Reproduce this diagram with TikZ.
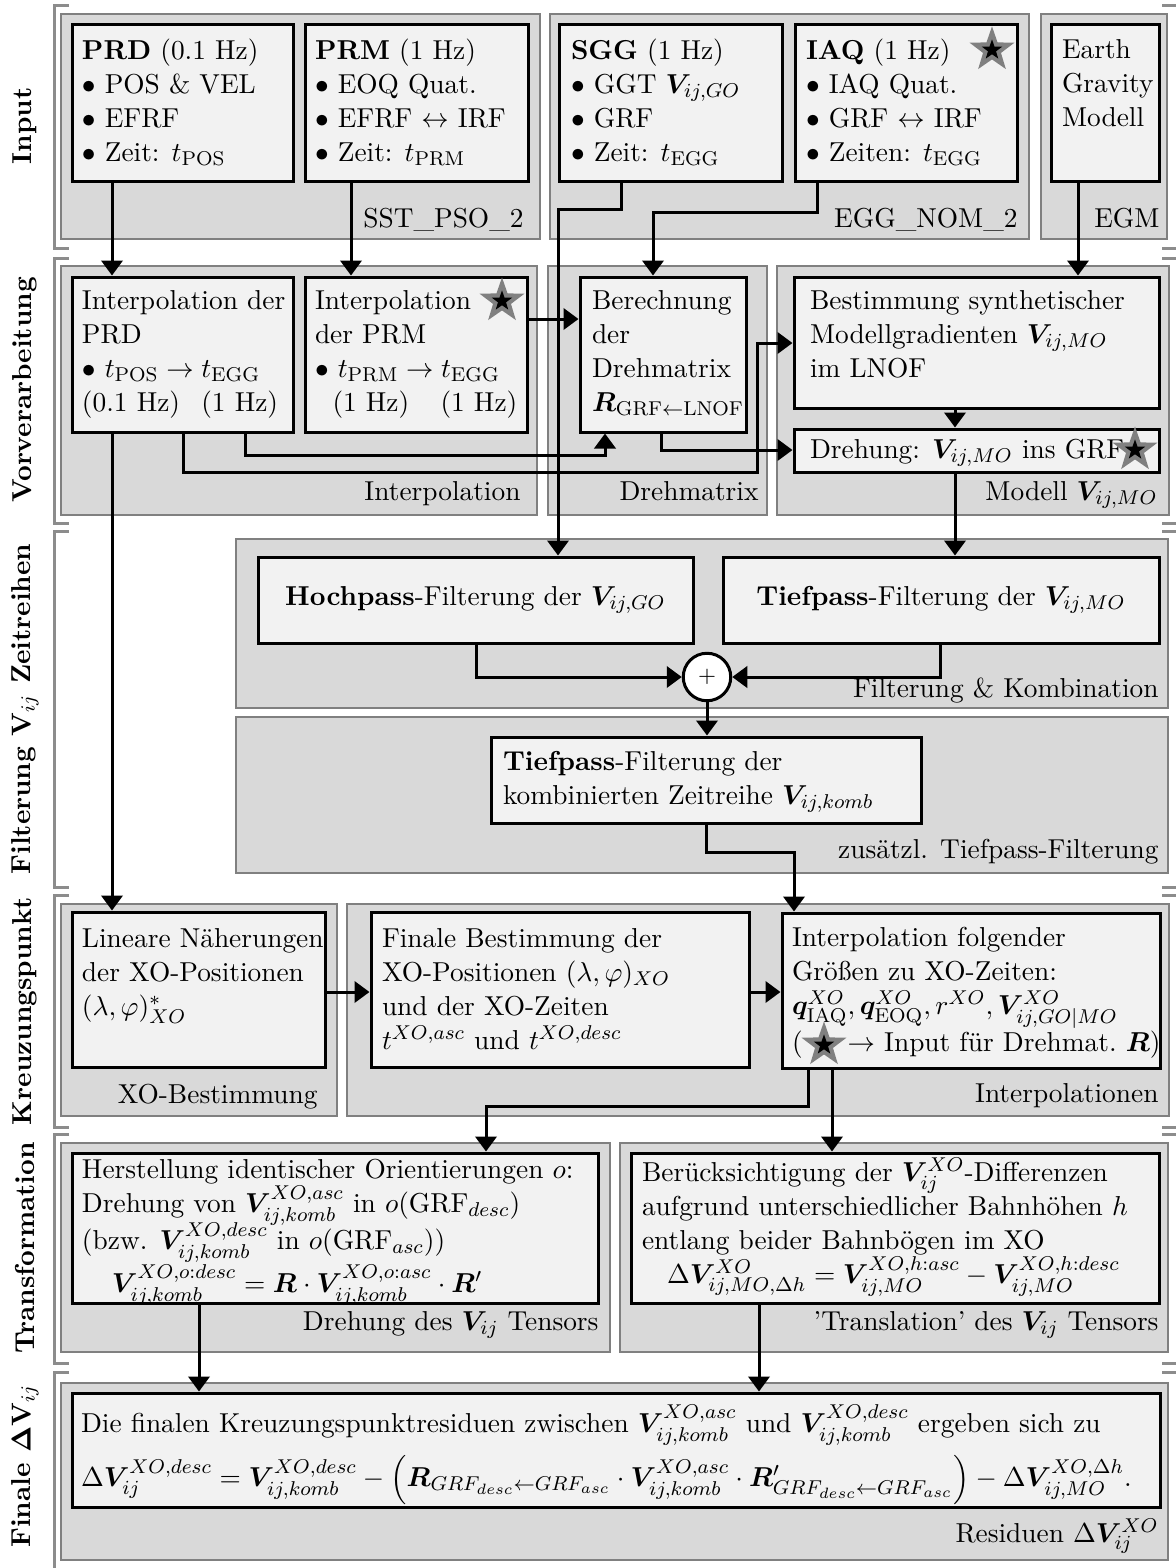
\documentclass[tikz,border=0pt]{standalone}
\usepackage{amsmath}
\usepackage{bm}
\usetikzlibrary{arrows.meta,shapes.geometric,fit}

\begin{document}
\begin{tikzpicture}[x=0.4pt,y=-0.4pt,
    grp/.style={draw=gray,line width=0.5pt,fill=gray!30,inner sep=0pt},
    box/.style={draw=black,very thick,fill=gray!10,inner sep=0pt},
    txt/.style={align=left,inner sep=0pt,anchor=north west,font=\fontsize{10.95}{13.6}\selectfont,execute at begin node={\rule{0pt}{10pt}}},
    ctxt/.style={inner sep=0pt,font=\fontsize{10.95}{13.6}\selectfont},
    glab/.style={inner sep=0pt,anchor=base east,font=\fontsize{10.95}{13.6}\selectfont},
    sec/.style={rotate=90,inner sep=0pt,font=\fontsize{10.95}{13.6}\selectfont\bfseries},
    arr/.style={very thick,-{Triangle[length=6pt,width=8.5pt]}},
    brk/.style={draw=gray!90,very thick},
    gstar/.style={star,star points=5,star point ratio=2.5,minimum size=8.5pt,inner sep=0pt,fill=black,preaction={draw=gray,line width=3.4pt}},
    sum/.style={circle,draw,very thick,fill=white,minimum size=19pt,inner sep=0pt,font=\small}]
    \useasboundingbox (0,0) rectangle (1175,1568);

    % Klammern links, Enden rechts
    \draw[brk] (69,5) -- (54,5) -- (54,248) -- (69,248);
    \draw[brk] (69,258) -- (54,258) -- (54,523) -- (69,523);
    \draw[brk] (69,531) -- (54,531) -- (54,887) -- (69,887);
    \draw[brk] (69,895) -- (54,895) -- (54,1127) -- (69,1127);
    \draw[brk] (69,1134) -- (54,1134) -- (54,1363) -- (69,1363);
    \draw[brk] (69,1372) -- (54,1372) -- (54,1580);
    \foreach \y in {5,248,258,523,531,887,895,1127,1134,1363,1372}
        \draw[brk] (1162,\y) -- (1180,\y);

    \node[sec] (secin) at (25,126) {Input};
    \node[sec] (secvor) at (25,390) {Vorverarbeitung};
    \node[sec] (secfil) at (25,709) {Filterung $\mathbf{V}_{ij}$ Zeitreihen};
    \node[sec] (seckreuz) at (25,1011) {Kreuzungspunkt};
    \node[sec] (sectrans) at (25,1248) {Transformation};
    \node[sec] (secfin) at (25,1466) {Finale $\bm{\Delta}\mathbf{V}_{ij}$};

    % Gruppen
    \node[grp, fit={(61,14) (540,239)}] (sst) {};
    \node[grp, fit={(550,14) (1029,239)}] (egg) {};
    \node[grp, fit={(1041,14) (1167,239)}] (egmg) {};
    \node[grp, fit={(61,266) (537,515)}] (interp) {};
    \node[grp, fit={(548,266) (767,515)}] (drehm) {};
    \node[grp, fit={(777,266) (1169,515)}] (modell) {};
    \node[grp, fit={(236,539) (1168,708)}] (filt) {};
    \node[grp, fit={(236,717) (1168,873)}] (zus) {};
    \node[grp, fit={(61,904) (337,1116)}] (xobest) {};
    \node[grp, fit={(347,904) (1169,1116)}] (ipolen) {};
    \node[grp, fit={(61,1143) (610,1352)}] (drehg) {};
    \node[grp, fit={(620,1143) (1168,1352)}] (transl) {};
    \node[grp, fit={(61,1383) (1168,1560)}] (resid) {};

    \node[glab] (sstL) at (524,227) {SST\_PSO\_2};
    \node[glab] (eggL) at (1018,227) {EGG\_NOM\_2};
    \node[glab] (egmL) at (1160,227) {EGM};
    \node[glab] (interpL) at (521,500) {Interpolation};
    \node[glab] (drehmL) at (759,500) {Drehmatrix};
    \node[glab] (modellL) at (1158,500) {Modell $\bm{V}_{ij,MO}$};
    \node[glab] (filtL) at (1159,697) {Filterung \& Kombination};
    \node[glab] (zusL) at (1159,858) {zusätzl. Tiefpass-Filterung};
    \node[glab] (xobestL) at (318,1103) {XO-Bestimmung};
    \node[glab] (ipolenL) at (1159,1102) {Interpolationen};
    \node[glab] (drehgL) at (599,1330) {Drehung des $\bm{V}_{ij}$ Tensors};
    \node[glab] (translL) at (1159,1330) {'Translation' des $\bm{V}_{ij}$ Tensors};
    \node[glab] (residL) at (1159,1542) {Residuen $\Delta\bm{V}^{XO}_{ij}$};

    % Kaesten
    \node[box, fit={(72,24) (293,181)}] (prd) {};
    \node[box, fit={(305,24) (528,181)}] (prm) {};
    \node[box, fit={(559,24) (782,181)}] (sgg) {};
    \node[box, fit={(795,24) (1017,181)}] (iaq) {};
    \node[box, fit={(1051,24) (1159,181)}] (egm) {};
    \node[box, fit={(72,277) (293,432)}] (ipprd) {};
    \node[box, fit={(305,277) (527,432)}] (ipprm) {};
    \node[box, fit={(580,277) (746,432)}] (dreh) {};
    \node[box, fit={(794,277) (1159,408)}] (best) {};
    \node[box, fit={(794,429) (1159,472)}] (drehung) {};
    \node[box, fit={(258,557) (693,643)}] (hoch) {};
    \node[box, fit={(723,557) (1159,643)}] (tief) {};
    \node[box, fit={(491,737) (921,823)}] (komb) {};
    \node[box, fit={(72,912) (325,1067)}] (linear) {};
    \node[box, fit={(371,912) (749,1067)}] (finale) {};
    \node[box, fit={(782,913) (1160,1068)}] (ipxo) {};
    \node[box, fit={(72,1153) (598,1303)}] (herst) {};
    \node[box, fit={(631,1153) (1159,1303)}] (beruck) {};
    \node[box, fit={(72,1393) (1160,1507)}] (final) {};
    \node[sum] (plus) at (707,677) {$+$};

    \node[txt] (prdT) at ([shift={(11,16)}]prd.north west) {\textbf{PRD} (0.1 Hz)\\$\bullet$ POS \& VEL\\$\bullet$ EFRF\\$\bullet$ Zeit: $t_{\mathrm{POS}}$};
    \node[txt] (prmT) at ([shift={(11,16)}]prm.north west) {\textbf{PRM} (1 Hz)\\$\bullet$ EOQ Quat.\\$\bullet$ EFRF $\leftrightarrow$ IRF\\$\bullet$ Zeit: $t_{\mathrm{PRM}}$};
    \node[txt] (sggT) at ([shift={(13,16)}]sgg.north west) {\textbf{SGG} (1 Hz)\\$\bullet$ GGT $\bm{V}_{ij,GO}$\\$\bullet$ GRF\\$\bullet$ Zeit: $t_{\mathrm{EGG}}$};
    \node[txt] (iaqT) at ([shift={(12,16)}]iaq.north west) {\textbf{IAQ} (1 Hz)\\$\bullet$ IAQ Quat.\\$\bullet$ GRF $\leftrightarrow$ IRF\\$\bullet$ Zeiten: $t_{\mathrm{EGG}}$};
    \node[txt] (egmT) at ([shift={(12,16)}]egm.north west) {Earth\\Gravity\\Modell};
    \node[txt] (ipprdT) at ([shift={(11,14)}]ipprd.north west) {Interpolation der\\PRD\\$\bullet$ $t_{\mathrm{POS}}\rightarrow t_{\mathrm{EGG}}$\\(0.1 Hz)\hspace{8.5pt}(1 Hz)};
    \node[txt] (ipprmT) at ([shift={(11,14)}]ipprm.north west) {Interpolation\\der PRM\\$\bullet$ $t_{\mathrm{PRM}}\rightarrow t_{\mathrm{EGG}}$\\\hspace*{7pt}(1 Hz)\hspace{12.5pt}(1 Hz)};
    \node[txt] (drehT) at ([shift={(13,14)}]dreh.north west) {Berechnung\\der\\Drehmatrix\\$\bm{R}_{\mathrm{GRF}\leftarrow\mathrm{LNOF}}$};
    \node[txt] (bestT) at ([shift={(17,14)}]best.north west) {Bestimmung synthetischer\\Modellgradienten $\bm{V}_{ij,MO}$\\im LNOF};
    \node[txt] (drehungT) at ([shift={(17,5)}]drehung.north west) {Drehung: $\bm{V}_{ij,MO}$ ins GRF};
    \node[ctxt] (hochT) at (hoch.center) {\textbf{Hochpass}-Filterung der $\bm{V}_{ij,GO}$};
    \node[ctxt] (tiefT) at (tief.center) {\textbf{Tiefpass}-Filterung der $\bm{V}_{ij,MO}$};
    \node[txt] (kombT) at ([shift={(13,15)}]komb.north west) {\textbf{Tiefpass}-Filterung der\\kombinierten Zeitreihe $\bm{V}_{ij,komb}$};
    \node[txt] (linearT) at ([shift={(11,17)}]linear.north west) {Lineare Näherungen\\der XO-Positionen\\$(\lambda,\varphi)^*_{XO}$};
    \node[txt] (finaleT) at ([shift={(12,17)}]finale.north west) {Finale Bestimmung der\\XO-Positionen $(\lambda,\varphi)_{XO}$\\und der XO-Zeiten\\$t^{XO,asc}$ und $t^{XO,desc}$};
    \node[txt] (ipxoT) at ([shift={(11,15)}]ipxo.north west) {Interpolation folgender\\Größen zu XO-Zeiten:\\$\bm{q}^{XO}_{\mathrm{IAQ}},\bm{q}^{XO}_{\mathrm{EOQ}},r^{XO},\bm{V}^{XO}_{ij,GO|MO}$\\(\hspace{18pt}$\rightarrow$ Input für Drehmat.\ $\bm{R}$)};
    \node[txt] (herstT) at ([shift={(11,7)}]herst.north west) {Herstellung identischer Orientierungen $o$:\\Drehung von $\bm{V}^{XO,asc}_{ij,komb}$ in $o(\mathrm{GRF}_{desc})$\\[-2pt](bzw. $\bm{V}^{XO,desc}_{ij,komb}$ in $o(\mathrm{GRF}_{asc})$)\\\hspace*{12pt}$\bm{V}^{XO,o:desc}_{ij,komb}=\bm{R}\cdot\bm{V}^{XO,o:asc}_{ij,komb}\cdot\bm{R}'$};
    \node[txt] (beruckT) at ([shift={(12,6)}]beruck.north west) {Berücksichtigung der $\bm{V}^{XO}_{ij}$-Differenzen\\aufgrund unterschiedlicher Bahnhöhen $h$\\entlang beider Bahnbögen im XO\\\hspace*{10pt}$\Delta\bm{V}^{XO}_{ij,MO,\Delta h}=\bm{V}^{XO,h:asc}_{ij,MO}-\bm{V}^{XO,h:desc}_{ij,MO}$};
    \node[txt] (finalT) at ([shift={(10,13)}]final.north west) {Die finalen Kreuzungspunktresiduen zwischen $\bm{V}^{XO,asc}_{ij,komb}$ und $\bm{V}^{XO,desc}_{ij,komb}$ ergeben sich zu\\[3pt]$\Delta\bm{V}^{XO,desc}_{ij}=\bm{V}^{XO,desc}_{ij,komb}-\Bigl(\bm{R}_{GRF_{desc}\leftarrow GRF_{asc}}\cdot\bm{V}^{XO,asc}_{ij,komb}\cdot\bm{R}'_{GRF_{desc}\leftarrow GRF_{asc}}\Bigr)-\Delta\bm{V}^{XO,\Delta h}_{ij,MO}.$};

    \node[gstar] (star1) at (992,50) {};
    \node[gstar] (star2) at (502,301) {};
    \node[gstar] (star3) at (1135,450) {};
    \node[gstar] (star4) at (824,1045) {};

    % Verbindungen
    \coordinate (xa) at (112,0);
    \coordinate (xb) at (351,0);
    \coordinate (k1) at (621,209);
    \coordinate (k2) at (558,209);
    \coordinate (k3) at (817,212);
    \coordinate (k4) at (653,212);
    \coordinate (xg) at (1078,0);
    \coordinate (yh) at (0,319);
    \coordinate (k5) at (183,472);
    \coordinate (k6) at (757,472);
    \coordinate (k7) at (757,343);
    \coordinate (k8) at (245,455);
    \coordinate (k9) at (605,455);
    \coordinate (k10) at (661,450);
    \coordinate (xn) at (955,0);
    \coordinate (k11) at (476,677);
    \coordinate (k12) at (940,677);
    \coordinate (k13) at (706,852);
    \coordinate (k14) at (794,852);
    \coordinate (ys) at (0,992);
    \coordinate (k15) at (808,1106);
    \coordinate (k16) at (486,1106);
    \coordinate (xv) at (832,0);
    \coordinate (xw) at (199,0);
    \coordinate (xx) at (759,0);

    \draw[arr] (prd.south -| xa) -- (ipprd.north -| xa);
    \draw[arr] (prm.south -| xb) -- (ipprm.north -| xb);
    \draw[arr] (sgg.south -| k1) -- (k1) -- (k2) -- (hoch.north -| k2);
    \draw[arr] (iaq.south -| k3) -- (k3) -- (k4) -- (dreh.north -| k4);
    \draw[arr] (egm.south -| xg) -- (best.north -| xg);
    \draw[arr] (ipprm.east |- yh) -- (dreh.west |- yh);
    \draw[arr] (ipprd.south -| k5) -- (k5) -- (k6) -- (k7) -- (best.west |- k7);
    \draw[arr] (ipprd.south -| k8) -- (k8) -- (k9) -- (dreh.south -| k9);
    \draw[arr] (dreh.south -| k10) -- (k10) -- (drehung.west |- k10);
    \draw[arr] (best.south -| xn) -- (drehung.north -| xn);
    \draw[arr] (drehung.south -| xn) -- (tief.north -| xn);
    \draw[arr] (ipprd.south -| xa) -- (linear.north -| xa);
    \draw[arr] (hoch.south -| k11) -- (k11) -- (plus.west);
    \draw[arr] (tief.south -| k12) -- (k12) -- (plus.east);
    \draw[arr] (plus.south) -- (komb.north -| plus.south);
    \draw[arr] (komb.south -| k13) -- (k13) -- (k14) -- (ipxo.north -| k14);
    \draw[arr] (linear.east |- ys) -- (finale.west |- ys);
    \draw[arr] (finale.east |- ys) -- (ipxo.west |- ys);
    \draw[arr] (ipxo.south -| k15) -- (k15) -- (k16) -- (herst.north -| k16);
    \draw[arr] (ipxo.south -| xv) -- (beruck.north -| xv);
    \draw[arr] (herst.south -| xw) -- (final.north -| xw);
    \draw[arr] (beruck.south -| xx) -- (final.north -| xx);
\end{tikzpicture}
\end{document}
